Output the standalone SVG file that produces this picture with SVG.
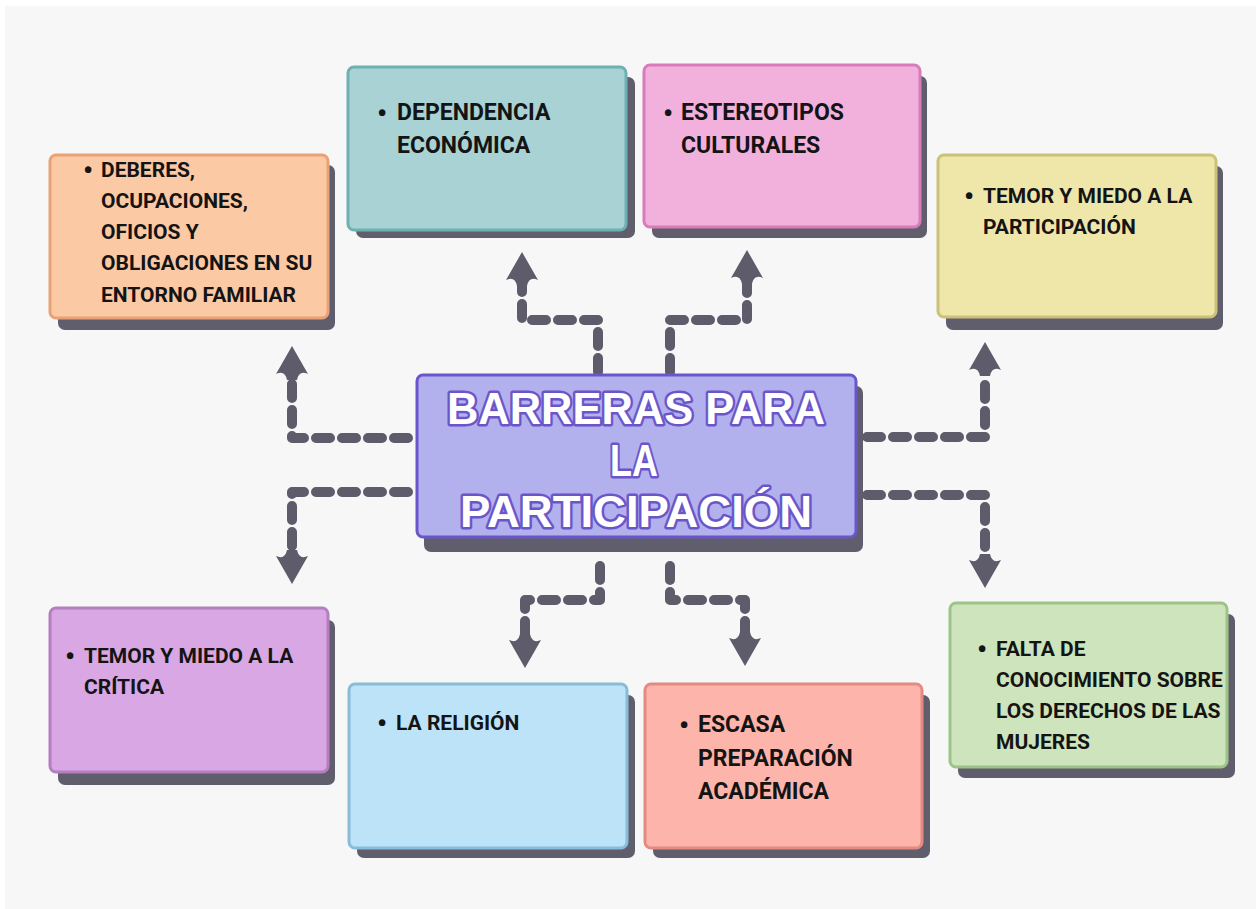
<svg xmlns="http://www.w3.org/2000/svg" width="1256" height="909" viewBox="0 0 1256 909">
<defs>
<style>
.shadow{fill:#605e6d}
.box{stroke-width:3}
.t{font-family:Roboto,"Liberation Sans",sans-serif;font-weight:700;font-size:21px;fill:#141414}
.t2{font-family:Roboto,"Liberation Sans",sans-serif;font-weight:700;font-size:23px;fill:#141414}
.b{font-family:Roboto,"Liberation Sans",sans-serif;font-weight:700;font-size:28px;fill:#141414}
.conn{fill:none;stroke:#5e5b6b;stroke-width:10;stroke-dasharray:14 12;stroke-linecap:round;stroke-linejoin:round}
.title{font-family:"Liberation Sans",Arial,sans-serif;font-weight:700;font-size:45px;fill:#ffffff;stroke:#6a56c9;stroke-width:5;paint-order:stroke;stroke-linejoin:round;text-anchor:middle}
</style>
<marker id="arr" viewBox="0 -17 34 34" markerWidth="34" markerHeight="34" refX="2" refY="0" orient="auto" markerUnits="userSpaceOnUse">
<path d="M34,0 L6,-16 Q10,-7 0,-5 L0,5 Q10,7 6,16 Z" fill="#5e5b6b"/>
</marker>
</defs>
<rect x="0" y="0" width="1256" height="909" fill="#ffffff"/>
<rect x="5" y="6" width="1251" height="903" fill="#f7f7f7"/>

<g id="connectors">
<path class="conn" d="M408 438 L292 438 L292 378" marker-end="url(#arr)"/>
<path class="conn" d="M408 492 L292 492 L292 552" marker-end="url(#arr)"/>
<path class="conn" d="M867 437 L985 437 L985 374" marker-end="url(#arr)"/>
<path class="conn" d="M867 495 L985 495 L985 556" marker-end="url(#arr)"/>
<path class="conn" d="M598 372 L598 320 L522 320 L522 284" marker-end="url(#arr)"/>
<path class="conn" d="M670 372 L670 320 L747 320 L747 282" marker-end="url(#arr)"/>
<path class="conn" d="M600 566 L600 600 L525 600 L525 636" marker-end="url(#arr)"/>
<path class="conn" d="M670 566 L670 600 L745 600 L745 634" marker-end="url(#arr)"/>
</g>

<g id="center">
<rect class="shadow" x="424" y="386" width="439" height="166" rx="7"/>
<rect class="box" x="417" y="375" width="439" height="162" rx="6" fill="#b3b0ee" stroke="#6a56c9"/>
<text class="title" x="636" y="424" textLength="378" lengthAdjust="spacingAndGlyphs">BARRERAS PARA</text>
<text class="title" x="634" y="476" textLength="48" lengthAdjust="spacingAndGlyphs">LA</text>
<text class="title" x="636" y="527" textLength="352" lengthAdjust="spacingAndGlyphs">PARTICIPACIÓN</text>
</g>

<g id="deberes">
<rect class="shadow" x="58" y="165" width="277" height="165" rx="7"/>
<rect class="box" x="50" y="155" width="278" height="163" rx="6" fill="#fcc9a5" stroke="#e8a276"/>
<text class="b" x="83" y="180">•</text>
<text class="t" x="101" y="177">DEBERES,</text>
<text class="t" x="101" y="208">OCUPACIONES,</text>
<text class="t" x="101" y="239">OFICIOS Y</text>
<text class="t" x="101" y="270">OBLIGACIONES EN SU</text>
<text class="t" x="101" y="302">ENTORNO FAMILIAR</text>
</g>

<g id="dependencia">
<rect class="shadow" x="356" y="77" width="279" height="161" rx="7"/>
<rect class="box" x="348" y="67" width="278" height="163" rx="6" fill="#a8d2d4" stroke="#6fb0b3"/>
<text class="b" x="377" y="123">•</text>
<text class="t2" x="397" y="120">DEPENDENCIA</text>
<text class="t2" x="397" y="153">ECONÓMICA</text>
</g>

<g id="estereotipos">
<rect class="shadow" x="652" y="76" width="275" height="162" rx="7"/>
<rect class="box" x="644" y="65" width="276" height="162" rx="6" fill="#f2b0dc" stroke="#d77cb8"/>
<text class="b" x="663" y="123">•</text>
<text class="t2" x="681" y="120">ESTEREOTIPOS</text>
<text class="t2" x="681" y="153">CULTURALES</text>
</g>

<g id="temor-participacion">
<rect class="shadow" x="946" y="166" width="277" height="164" rx="7"/>
<rect class="box" x="938" y="155" width="278" height="162" rx="6" fill="#efe6aa" stroke="#cbc178"/>
<text class="b" x="964" y="206">•</text>
<text class="t" x="983" y="203">TEMOR Y MIEDO A LA</text>
<text class="t" x="983" y="234">PARTICIPACIÓN</text>
</g>

<g id="temor-critica">
<rect class="shadow" x="58" y="620" width="277" height="165" rx="7"/>
<rect class="box" x="50" y="608" width="278" height="164" rx="6" fill="#d9a7e3" stroke="#b47ec1"/>
<text class="b" x="65" y="666">•</text>
<text class="t" x="84" y="663">TEMOR Y MIEDO A LA</text>
<text class="t" x="84" y="694">CRÍTICA</text>
</g>

<g id="religion">
<rect class="shadow" x="357" y="695" width="278" height="163" rx="7"/>
<rect class="box" x="349" y="684" width="278" height="164" rx="6" fill="#bde3f8" stroke="#88bcd8"/>
<text class="b" x="377" y="733">•</text>
<text class="t" x="396" y="730">LA RELIGIÓN</text>
</g>

<g id="escasa">
<rect class="shadow" x="653" y="695" width="277" height="163" rx="7"/>
<rect class="box" x="645" y="684" width="277" height="164" rx="6" fill="#fdb5ab" stroke="#e48a80"/>
<text class="b" x="679" y="735">•</text>
<text class="t2" x="698" y="732">ESCASA</text>
<text class="t2" x="698" y="766">PREPARACIÓN</text>
<text class="t2" x="698" y="799">ACADÉMICA</text>
</g>

<g id="falta">
<rect class="shadow" x="958" y="614" width="277" height="164" rx="7"/>
<rect class="box" x="950" y="603" width="277" height="164" rx="6" fill="#cde4bc" stroke="#9dc486"/>
<text class="b" x="977" y="659">•</text>
<text class="t" x="996" y="656">FALTA DE</text>
<text class="t" x="996" y="687">CONOCIMIENTO SOBRE</text>
<text class="t" x="996" y="718">LOS DERECHOS DE LAS</text>
<text class="t" x="996" y="749">MUJERES</text>
</g>
</svg>
